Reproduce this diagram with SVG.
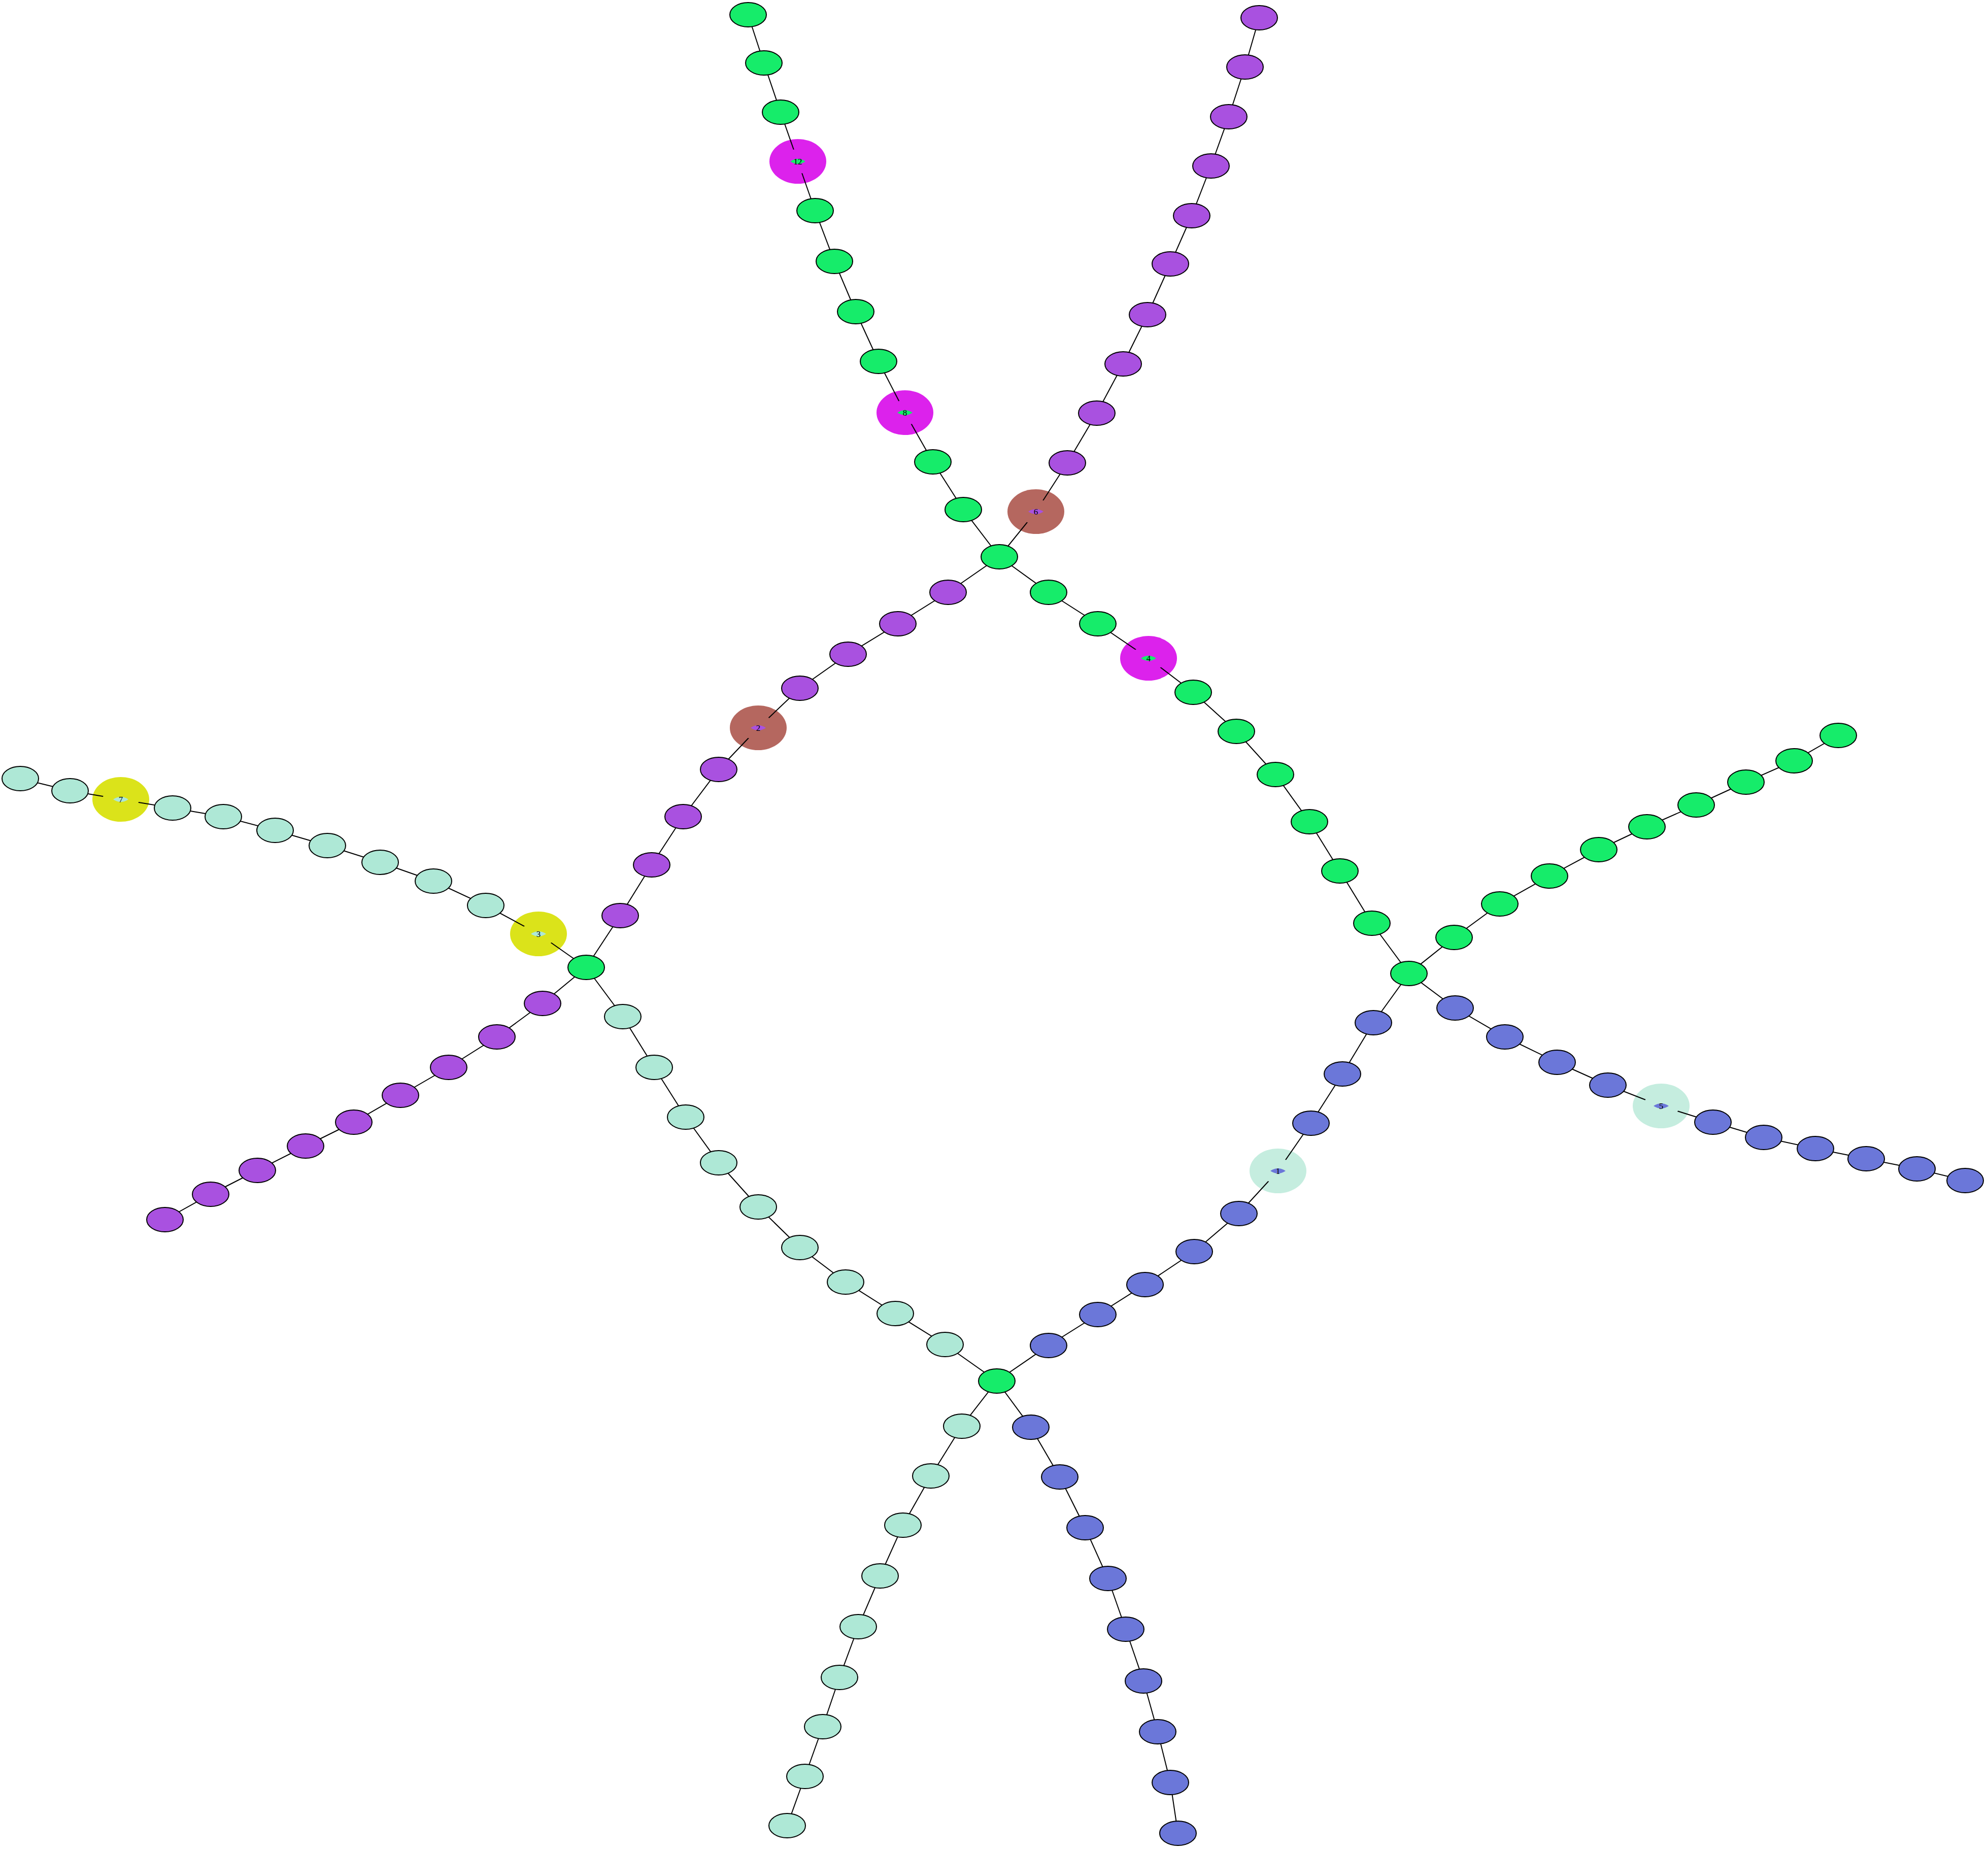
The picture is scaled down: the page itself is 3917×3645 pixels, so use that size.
<svg xmlns="http://www.w3.org/2000/svg" width="3917" height="3645" viewBox="0 0 3917 3645">
<style>
.nd{stroke:#000;stroke-width:2}
.g{fill:#16EC6A}.p{fill:#A951E0}.t{fill:#AEE8D6}.b{fill:#6B77D9}
.hm{fill:#DC22EC}.hb{fill:#B5675F}.hy{fill:#DBE31A}.hl{fill:#C5EDDF}
.lbl{font-family:"Liberation Serif",serif;font-size:17px;fill:#000;text-anchor:middle}
.e{fill:none;stroke:#000;stroke-width:2}
.k{fill:#000}
</style>
<defs>
<mask id="m" maskUnits="userSpaceOnUse" x="0" y="0" width="3917" height="3645">
<rect x="0" y="0" width="3917" height="3645" fill="#fff"/>
<g class="k">
<ellipse cx="1969" cy="1097" rx="36" ry="24"/><ellipse cx="1155" cy="1906" rx="36" ry="24"/><ellipse cx="2776" cy="1918" rx="36" ry="24"/><ellipse cx="1964" cy="2721" rx="36" ry="24"/>
<ellipse cx="1898" cy="1004" rx="36" ry="24"/><ellipse cx="1838" cy="910" rx="36" ry="24"/><ellipse cx="1783" cy="813" rx="36" ry="24"/><ellipse cx="1731" cy="712" rx="36" ry="24"/><ellipse cx="1686" cy="614" rx="36" ry="24"/><ellipse cx="1644" cy="515" rx="36" ry="24"/><ellipse cx="1606" cy="415" rx="36" ry="24"/><ellipse cx="1572" cy="318" rx="36" ry="24"/><ellipse cx="1538" cy="221" rx="36" ry="24"/><ellipse cx="1505" cy="124" rx="36" ry="24"/><ellipse cx="1474" cy="29" rx="36" ry="24"/>
<ellipse cx="2041" cy="1008" rx="36" ry="24"/><ellipse cx="2103" cy="912" rx="36" ry="24"/><ellipse cx="2161" cy="814" rx="36" ry="24"/><ellipse cx="2213" cy="717" rx="36" ry="24"/><ellipse cx="2261" cy="620" rx="36" ry="24"/><ellipse cx="2306" cy="520" rx="36" ry="24"/><ellipse cx="2348" cy="425" rx="36" ry="24"/><ellipse cx="2386" cy="327" rx="36" ry="24"/><ellipse cx="2421" cy="230" rx="36" ry="24"/><ellipse cx="2453" cy="132" rx="36" ry="24"/><ellipse cx="2481" cy="35" rx="36" ry="24"/>
<ellipse cx="1868" cy="1167" rx="36" ry="24"/><ellipse cx="1769" cy="1229" rx="36" ry="24"/><ellipse cx="1671" cy="1289" rx="36" ry="24"/><ellipse cx="1576" cy="1356" rx="36" ry="24"/><ellipse cx="1494" cy="1434" rx="36" ry="24"/><ellipse cx="1416" cy="1516" rx="36" ry="24"/><ellipse cx="1346" cy="1609" rx="36" ry="24"/><ellipse cx="1284" cy="1704" rx="36" ry="24"/><ellipse cx="1222" cy="1804" rx="36" ry="24"/>
<ellipse cx="2066" cy="1167" rx="36" ry="24"/><ellipse cx="2163" cy="1229" rx="36" ry="24"/><ellipse cx="2263" cy="1297" rx="36" ry="24"/><ellipse cx="2351" cy="1364" rx="36" ry="24"/><ellipse cx="2436" cy="1441" rx="36" ry="24"/><ellipse cx="2513" cy="1526" rx="36" ry="24"/><ellipse cx="2580" cy="1619" rx="36" ry="24"/><ellipse cx="2640" cy="1716" rx="36" ry="24"/><ellipse cx="2703" cy="1819" rx="36" ry="24"/>
<ellipse cx="1061" cy="1840" rx="36" ry="24"/><ellipse cx="957" cy="1784" rx="36" ry="24"/><ellipse cx="854" cy="1736" rx="36" ry="24"/><ellipse cx="749" cy="1699" rx="36" ry="24"/><ellipse cx="645" cy="1666" rx="36" ry="24"/><ellipse cx="542" cy="1636" rx="36" ry="24"/><ellipse cx="440" cy="1609" rx="36" ry="24"/><ellipse cx="340" cy="1592" rx="36" ry="24"/><ellipse cx="238" cy="1575" rx="36" ry="24"/><ellipse cx="138" cy="1558" rx="36" ry="24"/><ellipse cx="40" cy="1534" rx="36" ry="24"/>
<ellipse cx="1069" cy="1977" rx="36" ry="24"/><ellipse cx="979" cy="2043" rx="36" ry="24"/><ellipse cx="884" cy="2103" rx="36" ry="24"/><ellipse cx="789" cy="2158" rx="36" ry="24"/><ellipse cx="697" cy="2211" rx="36" ry="24"/><ellipse cx="602" cy="2258" rx="36" ry="24"/><ellipse cx="507" cy="2306" rx="36" ry="24"/><ellipse cx="415" cy="2353" rx="36" ry="24"/><ellipse cx="325" cy="2403" rx="36" ry="24"/>
<ellipse cx="1227" cy="2003" rx="36" ry="24"/><ellipse cx="1289" cy="2103" rx="36" ry="24"/><ellipse cx="1351" cy="2201" rx="36" ry="24"/><ellipse cx="1416" cy="2291" rx="36" ry="24"/><ellipse cx="1494" cy="2378" rx="36" ry="24"/><ellipse cx="1576" cy="2458" rx="36" ry="24"/><ellipse cx="1666" cy="2526" rx="36" ry="24"/><ellipse cx="1764" cy="2588" rx="36" ry="24"/><ellipse cx="1862" cy="2649" rx="36" ry="24"/>
<ellipse cx="2865" cy="1847" rx="36" ry="24"/><ellipse cx="2955" cy="1781" rx="36" ry="24"/><ellipse cx="3053" cy="1726" rx="36" ry="24"/><ellipse cx="3150" cy="1674" rx="36" ry="24"/><ellipse cx="3245" cy="1629" rx="36" ry="24"/><ellipse cx="3342" cy="1586" rx="36" ry="24"/><ellipse cx="3440" cy="1541" rx="36" ry="24"/><ellipse cx="3535" cy="1499" rx="36" ry="24"/><ellipse cx="3622" cy="1449" rx="36" ry="24"/>
<ellipse cx="2867" cy="1986" rx="36" ry="24"/><ellipse cx="2965" cy="2043" rx="36" ry="24"/><ellipse cx="3068" cy="2093" rx="36" ry="24"/><ellipse cx="3168" cy="2138" rx="36" ry="24"/><ellipse cx="3273" cy="2179" rx="36" ry="24"/><ellipse cx="3375" cy="2211" rx="36" ry="24"/><ellipse cx="3475" cy="2241" rx="36" ry="24"/><ellipse cx="3577" cy="2263" rx="36" ry="24"/><ellipse cx="3677" cy="2283" rx="36" ry="24"/><ellipse cx="3777" cy="2303" rx="36" ry="24"/><ellipse cx="3872" cy="2326" rx="36" ry="24"/>
<ellipse cx="2706" cy="2015" rx="36" ry="24"/><ellipse cx="2645" cy="2116" rx="36" ry="24"/><ellipse cx="2583" cy="2213" rx="36" ry="24"/><ellipse cx="2518" cy="2307" rx="36" ry="24"/><ellipse cx="2441" cy="2391" rx="36" ry="24"/><ellipse cx="2353" cy="2466" rx="36" ry="24"/><ellipse cx="2256" cy="2531" rx="36" ry="24"/><ellipse cx="2163" cy="2590" rx="36" ry="24"/><ellipse cx="2066" cy="2651" rx="36" ry="24"/>
<ellipse cx="1895" cy="2810" rx="36" ry="24"/><ellipse cx="1834" cy="2908" rx="36" ry="24"/><ellipse cx="1779" cy="3005" rx="36" ry="24"/><ellipse cx="1734" cy="3105" rx="36" ry="24"/><ellipse cx="1691" cy="3205" rx="36" ry="24"/><ellipse cx="1654" cy="3305" rx="36" ry="24"/><ellipse cx="1621" cy="3402" rx="36" ry="24"/><ellipse cx="1586" cy="3500" rx="36" ry="24"/><ellipse cx="1551" cy="3597" rx="36" ry="24"/>
<ellipse cx="2031" cy="2812" rx="36" ry="24"/><ellipse cx="2088" cy="2910" rx="36" ry="24"/><ellipse cx="2138" cy="3010" rx="36" ry="24"/><ellipse cx="2183" cy="3110" rx="36" ry="24"/><ellipse cx="2218" cy="3210" rx="36" ry="24"/><ellipse cx="2253" cy="3312" rx="36" ry="24"/><ellipse cx="2281" cy="3412" rx="36" ry="24"/><ellipse cx="2306" cy="3512" rx="36" ry="24"/><ellipse cx="2321" cy="3612" rx="36" ry="24"/>
</g>
</mask>
</defs>
<rect width="3917" height="3645" fill="#fff"/>
<g id="nodes">
<g id="H1"><ellipse class="nd g" cx="1969" cy="1097" rx="36" ry="24"/></g>
<g id="H2"><ellipse class="nd g" cx="1155" cy="1906" rx="36" ry="24"/></g>
<g id="H3"><ellipse class="nd g" cx="2776" cy="1918" rx="36" ry="24"/></g>
<g id="H4"><ellipse class="nd g" cx="1964" cy="2721" rx="36" ry="24"/></g>
<g id="A1"><ellipse class="nd g" cx="1898" cy="1004" rx="36" ry="24"/></g>
<g id="A2"><ellipse class="nd g" cx="1838" cy="910" rx="36" ry="24"/></g>
<g id="A3"><ellipse class="hm" cx="1783" cy="813" rx="56" ry="44"/><path class="g" d="M1768,813q15,-10 30,0q-15,10 -30,0z"/><text class="lbl" x="1783" y="819">8</text></g>
<g id="A4"><ellipse class="nd g" cx="1731" cy="712" rx="36" ry="24"/></g>
<g id="A5"><ellipse class="nd g" cx="1686" cy="614" rx="36" ry="24"/></g>
<g id="A6"><ellipse class="nd g" cx="1644" cy="515" rx="36" ry="24"/></g>
<g id="A7"><ellipse class="nd g" cx="1606" cy="415" rx="36" ry="24"/></g>
<g id="A8"><ellipse class="hm" cx="1572" cy="318" rx="56" ry="44"/><path class="g" d="M1557,318q15,-10 30,0q-15,10 -30,0z"/><text class="lbl" x="1572" y="324">12</text></g>
<g id="A9"><ellipse class="nd g" cx="1538" cy="221" rx="36" ry="24"/></g>
<g id="A10"><ellipse class="nd g" cx="1505" cy="124" rx="36" ry="24"/></g>
<g id="A11"><ellipse class="nd g" cx="1474" cy="29" rx="36" ry="24"/></g>
<g id="B1"><ellipse class="hb" cx="2041" cy="1008" rx="56" ry="44"/><path class="p" d="M2026,1008q15,-10 30,0q-15,10 -30,0z"/><text class="lbl" x="2041" y="1014">6</text></g>
<g id="B2"><ellipse class="nd p" cx="2103" cy="912" rx="36" ry="24"/></g>
<g id="B3"><ellipse class="nd p" cx="2161" cy="814" rx="36" ry="24"/></g>
<g id="B4"><ellipse class="nd p" cx="2213" cy="717" rx="36" ry="24"/></g>
<g id="B5"><ellipse class="nd p" cx="2261" cy="620" rx="36" ry="24"/></g>
<g id="B6"><ellipse class="nd p" cx="2306" cy="520" rx="36" ry="24"/></g>
<g id="B7"><ellipse class="nd p" cx="2348" cy="425" rx="36" ry="24"/></g>
<g id="B8"><ellipse class="nd p" cx="2386" cy="327" rx="36" ry="24"/></g>
<g id="B9"><ellipse class="nd p" cx="2421" cy="230" rx="36" ry="24"/></g>
<g id="B10"><ellipse class="nd p" cx="2453" cy="132" rx="36" ry="24"/></g>
<g id="B11"><ellipse class="nd p" cx="2481" cy="35" rx="36" ry="24"/></g>
<g id="C1"><ellipse class="nd p" cx="1868" cy="1167" rx="36" ry="24"/></g>
<g id="C2"><ellipse class="nd p" cx="1769" cy="1229" rx="36" ry="24"/></g>
<g id="C3"><ellipse class="nd p" cx="1671" cy="1289" rx="36" ry="24"/></g>
<g id="C4"><ellipse class="nd p" cx="1576" cy="1356" rx="36" ry="24"/></g>
<g id="C5"><ellipse class="hb" cx="1494" cy="1434" rx="56" ry="44"/><path class="p" d="M1479,1434q15,-10 30,0q-15,10 -30,0z"/><text class="lbl" x="1494" y="1440">2</text></g>
<g id="C6"><ellipse class="nd p" cx="1416" cy="1516" rx="36" ry="24"/></g>
<g id="C7"><ellipse class="nd p" cx="1346" cy="1609" rx="36" ry="24"/></g>
<g id="C8"><ellipse class="nd p" cx="1284" cy="1704" rx="36" ry="24"/></g>
<g id="C9"><ellipse class="nd p" cx="1222" cy="1804" rx="36" ry="24"/></g>
<g id="D1"><ellipse class="nd g" cx="2066" cy="1167" rx="36" ry="24"/></g>
<g id="D2"><ellipse class="nd g" cx="2163" cy="1229" rx="36" ry="24"/></g>
<g id="D3"><ellipse class="hm" cx="2263" cy="1297" rx="56" ry="44"/><path class="g" d="M2248,1297q15,-10 30,0q-15,10 -30,0z"/><text class="lbl" x="2263" y="1303">4</text></g>
<g id="D4"><ellipse class="nd g" cx="2351" cy="1364" rx="36" ry="24"/></g>
<g id="D5"><ellipse class="nd g" cx="2436" cy="1441" rx="36" ry="24"/></g>
<g id="D6"><ellipse class="nd g" cx="2513" cy="1526" rx="36" ry="24"/></g>
<g id="D7"><ellipse class="nd g" cx="2580" cy="1619" rx="36" ry="24"/></g>
<g id="D8"><ellipse class="nd g" cx="2640" cy="1716" rx="36" ry="24"/></g>
<g id="D9"><ellipse class="nd g" cx="2703" cy="1819" rx="36" ry="24"/></g>
<g id="E1"><ellipse class="hy" cx="1061" cy="1840" rx="56" ry="44"/><path class="t" d="M1046,1840q15,-10 30,0q-15,10 -30,0z"/><text class="lbl" x="1061" y="1846">3</text></g>
<g id="E2"><ellipse class="nd t" cx="957" cy="1784" rx="36" ry="24"/></g>
<g id="E3"><ellipse class="nd t" cx="854" cy="1736" rx="36" ry="24"/></g>
<g id="E4"><ellipse class="nd t" cx="749" cy="1699" rx="36" ry="24"/></g>
<g id="E5"><ellipse class="nd t" cx="645" cy="1666" rx="36" ry="24"/></g>
<g id="E6"><ellipse class="nd t" cx="542" cy="1636" rx="36" ry="24"/></g>
<g id="E7"><ellipse class="nd t" cx="440" cy="1609" rx="36" ry="24"/></g>
<g id="E8"><ellipse class="nd t" cx="340" cy="1592" rx="36" ry="24"/></g>
<g id="E9"><ellipse class="hy" cx="238" cy="1575" rx="56" ry="44"/><path class="t" d="M223,1575q15,-10 30,0q-15,10 -30,0z"/><text class="lbl" x="238" y="1581">7</text></g>
<g id="E10"><ellipse class="nd t" cx="138" cy="1558" rx="36" ry="24"/></g>
<g id="E11"><ellipse class="nd t" cx="40" cy="1534" rx="36" ry="24"/></g>
<g id="F1"><ellipse class="nd p" cx="1069" cy="1977" rx="36" ry="24"/></g>
<g id="F2"><ellipse class="nd p" cx="979" cy="2043" rx="36" ry="24"/></g>
<g id="F3"><ellipse class="nd p" cx="884" cy="2103" rx="36" ry="24"/></g>
<g id="F4"><ellipse class="nd p" cx="789" cy="2158" rx="36" ry="24"/></g>
<g id="F5"><ellipse class="nd p" cx="697" cy="2211" rx="36" ry="24"/></g>
<g id="F6"><ellipse class="nd p" cx="602" cy="2258" rx="36" ry="24"/></g>
<g id="F7"><ellipse class="nd p" cx="507" cy="2306" rx="36" ry="24"/></g>
<g id="F8"><ellipse class="nd p" cx="415" cy="2353" rx="36" ry="24"/></g>
<g id="F9"><ellipse class="nd p" cx="325" cy="2403" rx="36" ry="24"/></g>
<g id="G1"><ellipse class="nd t" cx="1227" cy="2003" rx="36" ry="24"/></g>
<g id="G2"><ellipse class="nd t" cx="1289" cy="2103" rx="36" ry="24"/></g>
<g id="G3"><ellipse class="nd t" cx="1351" cy="2201" rx="36" ry="24"/></g>
<g id="G4"><ellipse class="nd t" cx="1416" cy="2291" rx="36" ry="24"/></g>
<g id="G5"><ellipse class="nd t" cx="1494" cy="2378" rx="36" ry="24"/></g>
<g id="G6"><ellipse class="nd t" cx="1576" cy="2458" rx="36" ry="24"/></g>
<g id="G7"><ellipse class="nd t" cx="1666" cy="2526" rx="36" ry="24"/></g>
<g id="G8"><ellipse class="nd t" cx="1764" cy="2588" rx="36" ry="24"/></g>
<g id="G9"><ellipse class="nd t" cx="1862" cy="2649" rx="36" ry="24"/></g>
<g id="I1"><ellipse class="nd g" cx="2865" cy="1847" rx="36" ry="24"/></g>
<g id="I2"><ellipse class="nd g" cx="2955" cy="1781" rx="36" ry="24"/></g>
<g id="I3"><ellipse class="nd g" cx="3053" cy="1726" rx="36" ry="24"/></g>
<g id="I4"><ellipse class="nd g" cx="3150" cy="1674" rx="36" ry="24"/></g>
<g id="I5"><ellipse class="nd g" cx="3245" cy="1629" rx="36" ry="24"/></g>
<g id="I6"><ellipse class="nd g" cx="3342" cy="1586" rx="36" ry="24"/></g>
<g id="I7"><ellipse class="nd g" cx="3440" cy="1541" rx="36" ry="24"/></g>
<g id="I8"><ellipse class="nd g" cx="3535" cy="1499" rx="36" ry="24"/></g>
<g id="I9"><ellipse class="nd g" cx="3622" cy="1449" rx="36" ry="24"/></g>
<g id="J1"><ellipse class="nd b" cx="2867" cy="1986" rx="36" ry="24"/></g>
<g id="J2"><ellipse class="nd b" cx="2965" cy="2043" rx="36" ry="24"/></g>
<g id="J3"><ellipse class="nd b" cx="3068" cy="2093" rx="36" ry="24"/></g>
<g id="J4"><ellipse class="nd b" cx="3168" cy="2138" rx="36" ry="24"/></g>
<g id="J5"><ellipse class="hl" cx="3273" cy="2179" rx="56" ry="44"/><path class="b" d="M3258,2179q15,-10 30,0q-15,10 -30,0z"/><text class="lbl" x="3273" y="2185">5</text></g>
<g id="J6"><ellipse class="nd b" cx="3375" cy="2211" rx="36" ry="24"/></g>
<g id="J7"><ellipse class="nd b" cx="3475" cy="2241" rx="36" ry="24"/></g>
<g id="J8"><ellipse class="nd b" cx="3577" cy="2263" rx="36" ry="24"/></g>
<g id="J9"><ellipse class="nd b" cx="3677" cy="2283" rx="36" ry="24"/></g>
<g id="J10"><ellipse class="nd b" cx="3777" cy="2303" rx="36" ry="24"/></g>
<g id="J11"><ellipse class="nd b" cx="3872" cy="2326" rx="36" ry="24"/></g>
<g id="K1"><ellipse class="nd b" cx="2706" cy="2015" rx="36" ry="24"/></g>
<g id="K2"><ellipse class="nd b" cx="2645" cy="2116" rx="36" ry="24"/></g>
<g id="K3"><ellipse class="nd b" cx="2583" cy="2213" rx="36" ry="24"/></g>
<g id="K4"><ellipse class="hl" cx="2518" cy="2307" rx="56" ry="44"/><path class="b" d="M2503,2307q15,-10 30,0q-15,10 -30,0z"/><text class="lbl" x="2518" y="2313">1</text></g>
<g id="K5"><ellipse class="nd b" cx="2441" cy="2391" rx="36" ry="24"/></g>
<g id="K6"><ellipse class="nd b" cx="2353" cy="2466" rx="36" ry="24"/></g>
<g id="K7"><ellipse class="nd b" cx="2256" cy="2531" rx="36" ry="24"/></g>
<g id="K8"><ellipse class="nd b" cx="2163" cy="2590" rx="36" ry="24"/></g>
<g id="K9"><ellipse class="nd b" cx="2066" cy="2651" rx="36" ry="24"/></g>
<g id="L1"><ellipse class="nd t" cx="1895" cy="2810" rx="36" ry="24"/></g>
<g id="L2"><ellipse class="nd t" cx="1834" cy="2908" rx="36" ry="24"/></g>
<g id="L3"><ellipse class="nd t" cx="1779" cy="3005" rx="36" ry="24"/></g>
<g id="L4"><ellipse class="nd t" cx="1734" cy="3105" rx="36" ry="24"/></g>
<g id="L5"><ellipse class="nd t" cx="1691" cy="3205" rx="36" ry="24"/></g>
<g id="L6"><ellipse class="nd t" cx="1654" cy="3305" rx="36" ry="24"/></g>
<g id="L7"><ellipse class="nd t" cx="1621" cy="3402" rx="36" ry="24"/></g>
<g id="L8"><ellipse class="nd t" cx="1586" cy="3500" rx="36" ry="24"/></g>
<g id="L9"><ellipse class="nd t" cx="1551" cy="3597" rx="36" ry="24"/></g>
<g id="M1"><ellipse class="nd b" cx="2031" cy="2812" rx="36" ry="24"/></g>
<g id="M2"><ellipse class="nd b" cx="2088" cy="2910" rx="36" ry="24"/></g>
<g id="M3"><ellipse class="nd b" cx="2138" cy="3010" rx="36" ry="24"/></g>
<g id="M4"><ellipse class="nd b" cx="2183" cy="3110" rx="36" ry="24"/></g>
<g id="M5"><ellipse class="nd b" cx="2218" cy="3210" rx="36" ry="24"/></g>
<g id="M6"><ellipse class="nd b" cx="2253" cy="3312" rx="36" ry="24"/></g>
<g id="M7"><ellipse class="nd b" cx="2281" cy="3412" rx="36" ry="24"/></g>
<g id="M8"><ellipse class="nd b" cx="2306" cy="3512" rx="36" ry="24"/></g>
<g id="M9"><ellipse class="nd b" cx="2321" cy="3612" rx="36" ry="24"/></g>
</g>
<g id="connectors" class="e" mask="url(#m)">
<polyline points="1969,1097 1898,1004 1838,910 1783,813 1731,712 1686,614 1644,515 1606,415 1572,318 1538,221 1505,124 1474,29"/>
<polyline points="1969,1097 2041,1008 2103,912 2161,814 2213,717 2261,620 2306,520 2348,425 2386,327 2421,230 2453,132 2481,35"/>
<polyline points="1969,1097 1868,1167 1769,1229 1671,1289 1576,1356 1494,1434 1416,1516 1346,1609 1284,1704 1222,1804 1155,1906"/>
<polyline points="1969,1097 2066,1167 2163,1229 2263,1297 2351,1364 2436,1441 2513,1526 2580,1619 2640,1716 2703,1819 2776,1918"/>
<polyline points="1155,1906 1061,1840 957,1784 854,1736 749,1699 645,1666 542,1636 440,1609 340,1592 238,1575 138,1558 40,1534"/>
<polyline points="1155,1906 1069,1977 979,2043 884,2103 789,2158 697,2211 602,2258 507,2306 415,2353 325,2403"/>
<polyline points="1155,1906 1227,2003 1289,2103 1351,2201 1416,2291 1494,2378 1576,2458 1666,2526 1764,2588 1862,2649 1964,2721"/>
<polyline points="2776,1918 2865,1847 2955,1781 3053,1726 3150,1674 3245,1629 3342,1586 3440,1541 3535,1499 3622,1449"/>
<polyline points="2776,1918 2867,1986 2965,2043 3068,2093 3168,2138 3273,2179 3375,2211 3475,2241 3577,2263 3677,2283 3777,2303 3872,2326"/>
<polyline points="2776,1918 2706,2015 2645,2116 2583,2213 2518,2307 2441,2391 2353,2466 2256,2531 2163,2590 2066,2651 1964,2721"/>
<polyline points="1964,2721 1895,2810 1834,2908 1779,3005 1734,3105 1691,3205 1654,3305 1621,3402 1586,3500 1551,3597"/>
<polyline points="1964,2721 2031,2812 2088,2910 2138,3010 2183,3110 2218,3210 2253,3312 2281,3412 2306,3512 2321,3612"/>
</g>
</svg>
